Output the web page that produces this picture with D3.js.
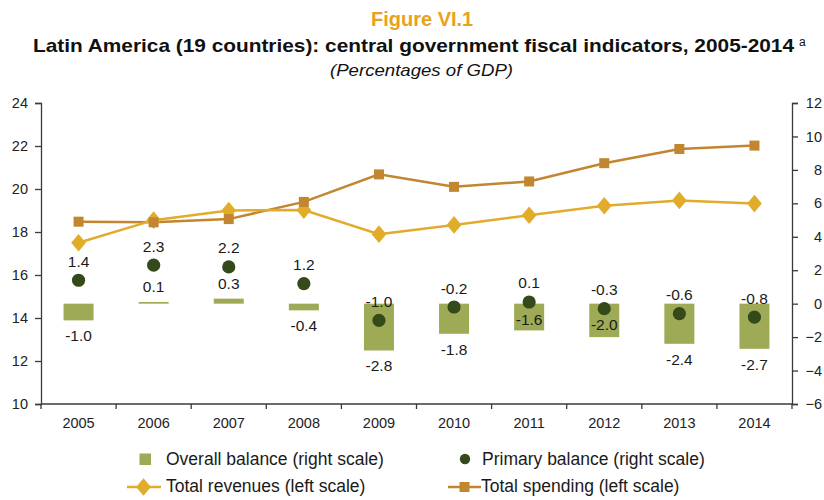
<!DOCTYPE html>
<html>
<head>
<meta charset="utf-8">
<script src="https://cdn.jsdelivr.net/npm/d3@7"></script>
<style>
  html, body { margin: 0; padding: 0; background: #fff; }
  svg { display: block; }
  .tick text { font-family: "Liberation Sans", Arial, sans-serif; font-size: 14.5px; fill: #222; }
  .domain, .tick line { stroke: #3a3a3a; stroke-width: 1.3px; }
</style>
</head>
<body>
<svg id="chart" width="824" height="500"></svg>
<script>
// Latin America (19 countries): central government fiscal indicators, 2005-2014
const years = ["2005", "2006", "2007", "2008", "2009", "2010", "2011", "2012", "2013", "2014"];
const overallBalance = [-1.0, 0.1, 0.3, -0.4, -2.8, -1.8, -1.6, -2.0, -2.4, -2.7];
const primaryBalance = [1.4, 2.3, 2.2, 1.2, -1.0, -0.2, 0.1, -0.3, -0.6, -0.8];
const totalRevenues = [17.5, 18.55, 19.0, 19.02, 17.9, 18.33, 18.78, 19.22, 19.47, 19.32];
const totalSpending = [18.48, 18.45, 18.6, 19.4, 20.68, 20.1, 20.35, 21.2, 21.86, 22.02];
const leftTicks = [10, 12, 14, 16, 18, 20, 22, 24];
const rightTicks = [-6, -4, -2, 0, 2, 4, 6, 8, 10, 12];

const colors = {
  title: "#e8a21b",
  bar: "#9eaa55",
  dot: "#354a1a",
  revenues: "#e2ac2b",
  spending: "#c1862f",
  text: "#1a1a1a"
};

const svg = d3.select("#chart");
const plot = { left: 41, right: 792, top: 103, bottom: 404 };
const font = "'Liberation Sans', Arial, sans-serif";

const x = d3.scaleBand().domain(years).range([plot.left, plot.right]).paddingInner(0).paddingOuter(0);
const yL = d3.scaleLinear().domain([10, 24]).range([plot.bottom, plot.top]);
const yR = d3.scaleLinear().domain([-6, 12]).range([plot.bottom, plot.top]);
const cx = yr => x(yr) + x.bandwidth() / 2;

// Titles
svg.append("text").attr("x", 371).attr("y", 26)
  .attr("font-family", font).attr("font-weight", "bold").attr("font-size", 20)
  .attr("fill", colors.title).text("Figure VI.1");
svg.append("text").attr("x", 33).attr("y", 52)
  .attr("font-family", font).attr("font-weight", "bold").attr("font-size", 19)
  .attr("textLength", 761).attr("lengthAdjust", "spacingAndGlyphs").attr("fill", "#111")
  .text("Latin America (19 countries): central government fiscal indicators, 2005-2014");
svg.append("text").attr("x", 799).attr("y", 46)
  .attr("font-family", font).attr("font-size", 12).attr("fill", "#111").text("a");
svg.append("text").attr("x", 330).attr("y", 76)
  .attr("font-family", font).attr("font-style", "italic").attr("font-size", 17)
  .attr("textLength", 183).attr("lengthAdjust", "spacingAndGlyphs").attr("fill", "#111")
  .text("(Percentages of GDP)");

// Overall balance bars (right scale)
const barW = 30;
svg.append("g").selectAll("rect").data(years).join("rect")
  .attr("x", (d) => cx(d) - barW / 2)
  .attr("y", (d, i) => yR(Math.max(0, overallBalance[i])))
  .attr("width", barW)
  .attr("height", (d, i) => Math.abs(yR(overallBalance[i]) - yR(0)))
  .attr("fill", colors.bar);

// Lines (left scale)
const line = vals => d3.line().x((d, i) => cx(years[i])).y(d => yL(d))(vals);
svg.append("path").attr("d", line(totalSpending)).attr("fill", "none")
  .attr("stroke", colors.spending).attr("stroke-width", 2.5);
svg.append("path").attr("d", line(totalRevenues)).attr("fill", "none")
  .attr("stroke", colors.revenues).attr("stroke-width", 2.5);

const diamond = d3.symbol().type(d3.symbolDiamond).size(90);
svg.append("g").selectAll("path").data(totalRevenues).join("path")
  .attr("transform", (d, i) => `translate(${cx(years[i])},${yL(d)}) scale(1.45,1)`)
  .attr("d", diamond()).attr("fill", colors.revenues);
svg.append("g").selectAll("rect").data(totalSpending).join("rect")
  .attr("x", (d, i) => cx(years[i]) - 5).attr("y", d => yL(d) - 5)
  .attr("width", 10).attr("height", 10).attr("fill", colors.spending);

// Primary balance dots (right scale)
svg.append("g").selectAll("circle").data(primaryBalance).join("circle")
  .attr("cx", (d, i) => cx(years[i])).attr("cy", d => yR(d))
  .attr("r", 6.6).attr("fill", colors.dot);

// Value labels
svg.append("g").selectAll("text").data(primaryBalance).join("text")
  .attr("x", (d, i) => cx(years[i])).attr("y", d => yR(d) - 13.5)
  .attr("text-anchor", "middle").attr("font-family", font).attr("font-size", 15.5)
  .attr("fill", colors.text).text(d => d.toFixed(1));

// Overall balance labels sit outside the bar end, except where nudged up into the bar
const nudge = { "2011": -26, "2012": -28 };
svg.append("g").selectAll("text").data(overallBalance).join("text")
  .attr("x", (d, i) => cx(years[i]))
  .attr("y", (d, i) => (d >= 0 ? yR(d) - 9.5 : yR(d) + 21) + (nudge[years[i]] || 0))
  .attr("text-anchor", "middle").attr("font-family", font).attr("font-size", 15.5)
  .attr("fill", colors.text).text(d => d.toFixed(1));

// Axes
svg.append("g").attr("transform", `translate(${plot.left},0)`)
  .call(d3.axisLeft(yL).tickValues(leftTicks).tickSize(6).tickPadding(7));
svg.append("g").attr("transform", `translate(${plot.right},0)`)
  .call(d3.axisRight(yR).tickValues(rightTicks).tickSize(6))
  .call(g => g.selectAll(".tick text").attr("x", 30).attr("text-anchor", "end"));
const xAxis = svg.append("g").attr("transform", `translate(0,${plot.bottom})`)
  .call(d3.axisBottom(x).tickSize(0).tickPadding(13.5));
xAxis.select(".domain").attr("d", `M${plot.left},0H${plot.right}`);
// tick marks on the band boundaries
const bounds = [plot.left].concat(years.slice(1).map(d => x(d)), [plot.right]);
xAxis.selectAll("line.sep").data(bounds).join("line")
  .attr("class", "sep")
  .attr("x1", d => d).attr("x2", d => d)
  .attr("y1", 0).attr("y2", 5).attr("stroke", "#3a3a3a").attr("stroke-width", 1.3);

// Legend
const lg = svg.append("g").attr("font-family", font).attr("font-size", 17.5).attr("fill", colors.text);
lg.append("rect").attr("x", 139.5).attr("y", 453.5).attr("width", 11.5).attr("height", 11.5).attr("fill", colors.bar);
lg.append("text").attr("x", 166).attr("y", 465).text("Overall balance (right scale)");
lg.append("circle").attr("cx", 465).attr("cy", 459).attr("r", 5.2).attr("fill", colors.dot);
lg.append("text").attr("x", 482).attr("y", 465).text("Primary balance (right scale)");

lg.append("line").attr("x1", 127).attr("x2", 161).attr("y1", 487).attr("y2", 487)
  .attr("stroke", colors.revenues).attr("stroke-width", 2.5);
lg.append("path").attr("transform", "translate(143.5,487) scale(1.45,1)").attr("d", diamond()).attr("fill", colors.revenues);
lg.append("text").attr("x", 166).attr("y", 492).text("Total revenues (left scale)");
lg.append("line").attr("x1", 448).attr("x2", 481).attr("y1", 487).attr("y2", 487)
  .attr("stroke", colors.spending).attr("stroke-width", 2.5);
lg.append("rect").attr("x", 459.5).attr("y", 482).attr("width", 10).attr("height", 10).attr("fill", colors.spending);
lg.append("text").attr("x", 481).attr("y", 492).text("Total spending (left scale)");
</script>
</body>
</html>
